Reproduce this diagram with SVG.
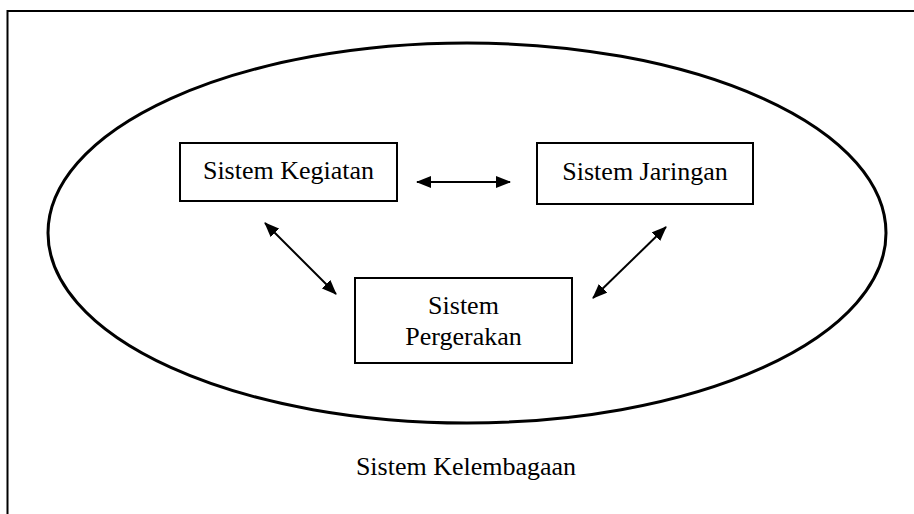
<svg xmlns="http://www.w3.org/2000/svg" width="914" height="514" viewBox="0 0 914 514">
<style>
.box{fill:#fff;stroke:#000;stroke-width:2}
.t{font-family:"Liberation Serif","Times New Roman",serif;font-size:26px;fill:#000;text-anchor:middle}
.c{stroke:#000;stroke-width:2;fill:none;marker-start:url(#ah);marker-end:url(#ah)}
</style>
<defs>
<marker id="ah" viewBox="0 0 15 12" refX="14" refY="6" markerWidth="15" markerHeight="12" markerUnits="userSpaceOnUse" orient="auto-start-reverse">
<path d="M0,0 L15,6 L0,12 Z" fill="#000"/>
</marker>
</defs>
<rect width="914" height="514" fill="#fff"/>
<g id="frame">
<path d="M7.5,514 L7.5,11 L914,11" fill="none" stroke="#000" stroke-width="2"/>
</g>
<g id="sistem-kelembagaan">
<ellipse cx="467" cy="233" rx="419" ry="190" fill="none" stroke="#000" stroke-width="3"/>
<text class="t" x="466" y="475">Sistem Kelembagaan</text>
</g>
<g id="sistem-kegiatan">
<rect class="box" x="180" y="143" width="217" height="58"/>
<text class="t" x="288.5" y="179">Sistem Kegiatan</text>
</g>
<g id="sistem-jaringan">
<rect class="box" x="537" y="143" width="216" height="61"/>
<text class="t" x="645" y="180">Sistem Jaringan</text>
</g>
<g id="sistem-pergerakan">
<rect class="box" x="355" y="278" width="217" height="85"/>
<text class="t" x="463.5" y="314">Sistem</text>
<text class="t" x="463.5" y="345">Pergerakan</text>
</g>
<g id="connectors">
<line class="c" x1="417" y1="182" x2="510" y2="182"/>
<line class="c" x1="265" y1="223" x2="336" y2="294"/>
<line class="c" x1="593" y1="298" x2="666" y2="227"/>
</g>
</svg>
